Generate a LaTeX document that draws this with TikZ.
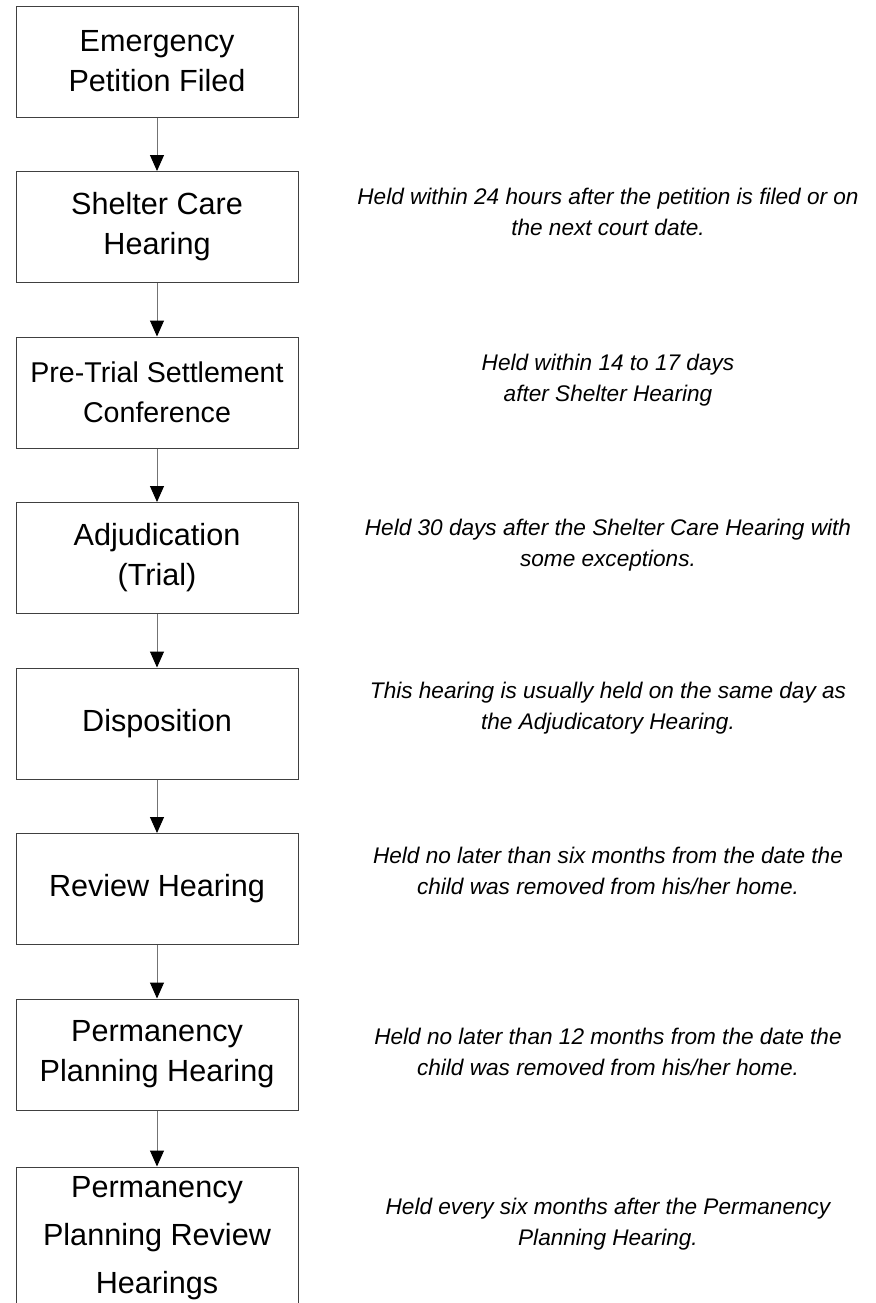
\documentclass[tikz,border=0pt]{standalone}
\usepackage{fontspec}
\setmainfont{Liberation Sans}
\usetikzlibrary{arrows.meta}

\tikzset{
  stage/.style={draw=black!75, line width=0.5pt, minimum width=141pt,
    minimum height=55.5pt, inner sep=0pt, align=center,
    font=\fontsize{15.3}{20}\selectfont},
  note/.style={inner sep=0pt, align=center,
    font=\fontsize{11.3}{15.5}\selectfont\itshape},
  flow/.style={draw=black!55, line width=0.5pt,
    -{Triangle[black, width=7pt, length=8pt]}},
}

\begin{document}
\begin{tikzpicture}[node distance=82.75pt]
        \useasboundingbox (0,0) rectangle (437.5pt,-651.5pt);

        \node (epf)  [stage] at (78.5pt,-30.75pt) {Emergency\\Petition Filed};
        \node (sch)  [stage, below of=epf]  {Shelter Care\\Hearing};
        \node (ptsc) [stage, below of=sch, font=\fontsize{14.3}{20}\selectfont]
                                            {Pre-Trial Settlement\\Conference};
        \node (adj)  [stage, below of=ptsc] {Adjudication\\(Trial)};
        \node (disp) [stage, below of=adj]  {Disposition};
        \node (rvh)  [stage, below of=disp] {Review Hearing};
        \node (pph)  [stage, below of=rvh]  {Permanency\\Planning Hearing};
        % last box runs off the page
        \node (pprh) [stage, below of=pph, yshift=-9pt, minimum height=71pt,
                      font=\fontsize{15.3}{24}\selectfont]
                                            {Permanency\\Planning Review\\Hearings};

        \node (schnote)  [note] at (304pt,-106pt)
          {Held within 24 hours after the petition is filed or on\\the next court date.};
        \node (ptscnote) [note] at (304pt,-190pt)
          {Held within 14 to 17 days\\after Shelter Hearing};
        \node (adjnote)  [note] at (304pt,-272.5pt)
          {Held 30 days after the Shelter Care Hearing with\\some exceptions.};
        \node (dispnote) [note] at (304pt,-354pt)
          {This hearing is usually held on the same day as\\the Adjudicatory Hearing.};
        \node (rvhnote)  [note] at (304pt,-435.25pt)
          {Held no later than six months from the date the\\child was removed from his/her home.};
        \node (pphnote)  [note] at (304pt,-525.75pt)
          {Held no later than 12 months from the date the\\child was removed from his/her home.};
        \node (pprhnote) [note] at (304pt,-612pt)
          {Held every six months after the Permanency\\Planning Hearing.};

        \draw [flow] (epf)  to (sch);
        \draw [flow] (sch)  to (ptsc);
        \draw [flow] (ptsc) to (adj);
        \draw [flow] (adj)  to (disp);
        \draw [flow] (disp) to (rvh);
        \draw [flow] (rvh)  to (pph);
        \draw [flow] (pph)  to (pprh);
      \end{tikzpicture}
\end{document}
